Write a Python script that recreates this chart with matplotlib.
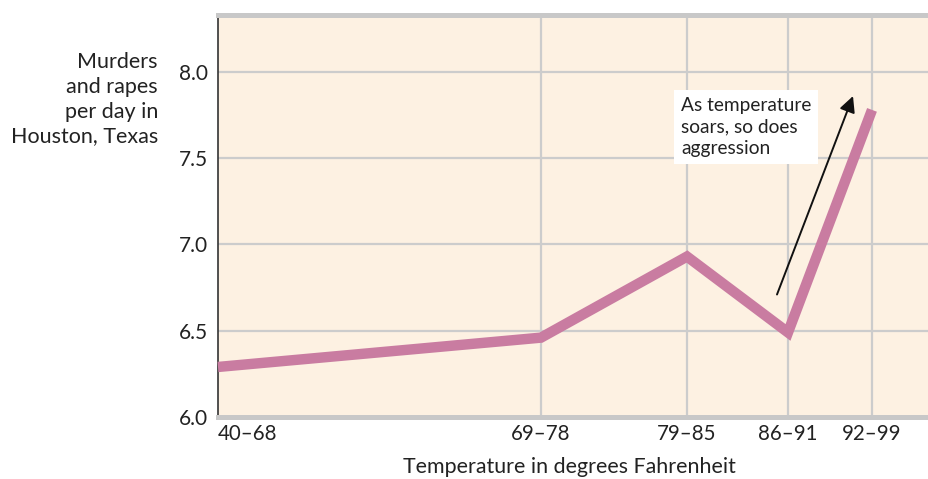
import matplotlib
matplotlib.use("Agg")
import matplotlib.pyplot as plt

categories = ["40–68", "69–78", "79–85", "86–91", "92–99"]
category_pos = [0, 323, 469, 570, 654]
values = [6.29, 6.46, 6.93, 6.49, 7.78]
yticks = [6.0, 6.5, 7.0, 7.5, 8.0]

plt.rcParams['font.family'] = ['Lato', 'DejaVu Sans']

W, H = 929, 479
fig = plt.figure(figsize=(W / 100, H / 100), dpi=100)
ax = fig.add_axes([218 / W, 1 - 417 / H, (929 - 218) / W, (417 - 15) / H])
ax.set_facecolor("#FDF1E2")
ax.set_xlim(0, 711)
ax.set_ylim(6.0, 8.33)

grid_c = "#CCCCCC"
for y in yticks[1:]:
    ax.axhline(y, color=grid_c, lw=1.6, zorder=1)
for x in category_pos[1:]:
    ax.axvline(x, color=grid_c, lw=1.6, zorder=1)

ax.plot(category_pos, values, color="#C97CA1", lw=7.5, solid_joinstyle="miter",
        solid_capstyle="butt", zorder=3, clip_on=False)

for s in ["right"]:
    ax.spines[s].set_visible(False)
ax.spines["left"].set_color("#333333")
ax.spines["left"].set_linewidth(1.2)
for s in ["top", "bottom"]:
    ax.spines[s].set_color("#C8C8C8")
    ax.spines[s].set_linewidth(3.6)
    ax.spines[s].set_zorder(4)

ax.set_yticks(yticks)
ax.set_yticklabels([f"{v:.1f}" for v in yticks], fontsize=15, color="#222222")
ax.set_xticks(category_pos)
ax.set_xticklabels(categories, fontsize=14.8, color="#222222")
ax.get_xticklabels()[0].set_horizontalalignment("left")
ax.tick_params(axis="both", length=0)
ax.tick_params(axis="y", pad=7)
ax.tick_params(axis="x", pad=5)

fig.text(158 / W, 1 - 52 / H, "Murders\nand rapes\nper day in\nHouston, Texas",
         ha="right", va="top", fontsize=15.5, color="#222222", linespacing=1.3)
fig.text(569 / W, 1 - 467 / H, "Temperature in degrees Fahrenheit",
         ha="center", va="center", fontsize=15.4, color="#222222")

ax.annotate("", xy=(635, 7.86), xytext=(559, 6.71),
            arrowprops=dict(arrowstyle="-|>", color="#111111", lw=1.4,
                            mutation_scale=24, shrinkA=0, shrinkB=0), zorder=5)
ax.text(463, 7.68, "As temperature\nsoars, so does\naggression", fontsize=13.8,
        color="#222222", ha="left", va="center", linespacing=1.32, zorder=6,
        bbox=dict(facecolor="white", edgecolor="none", pad=5))

fig.savefig("out.png", dpi=100)
